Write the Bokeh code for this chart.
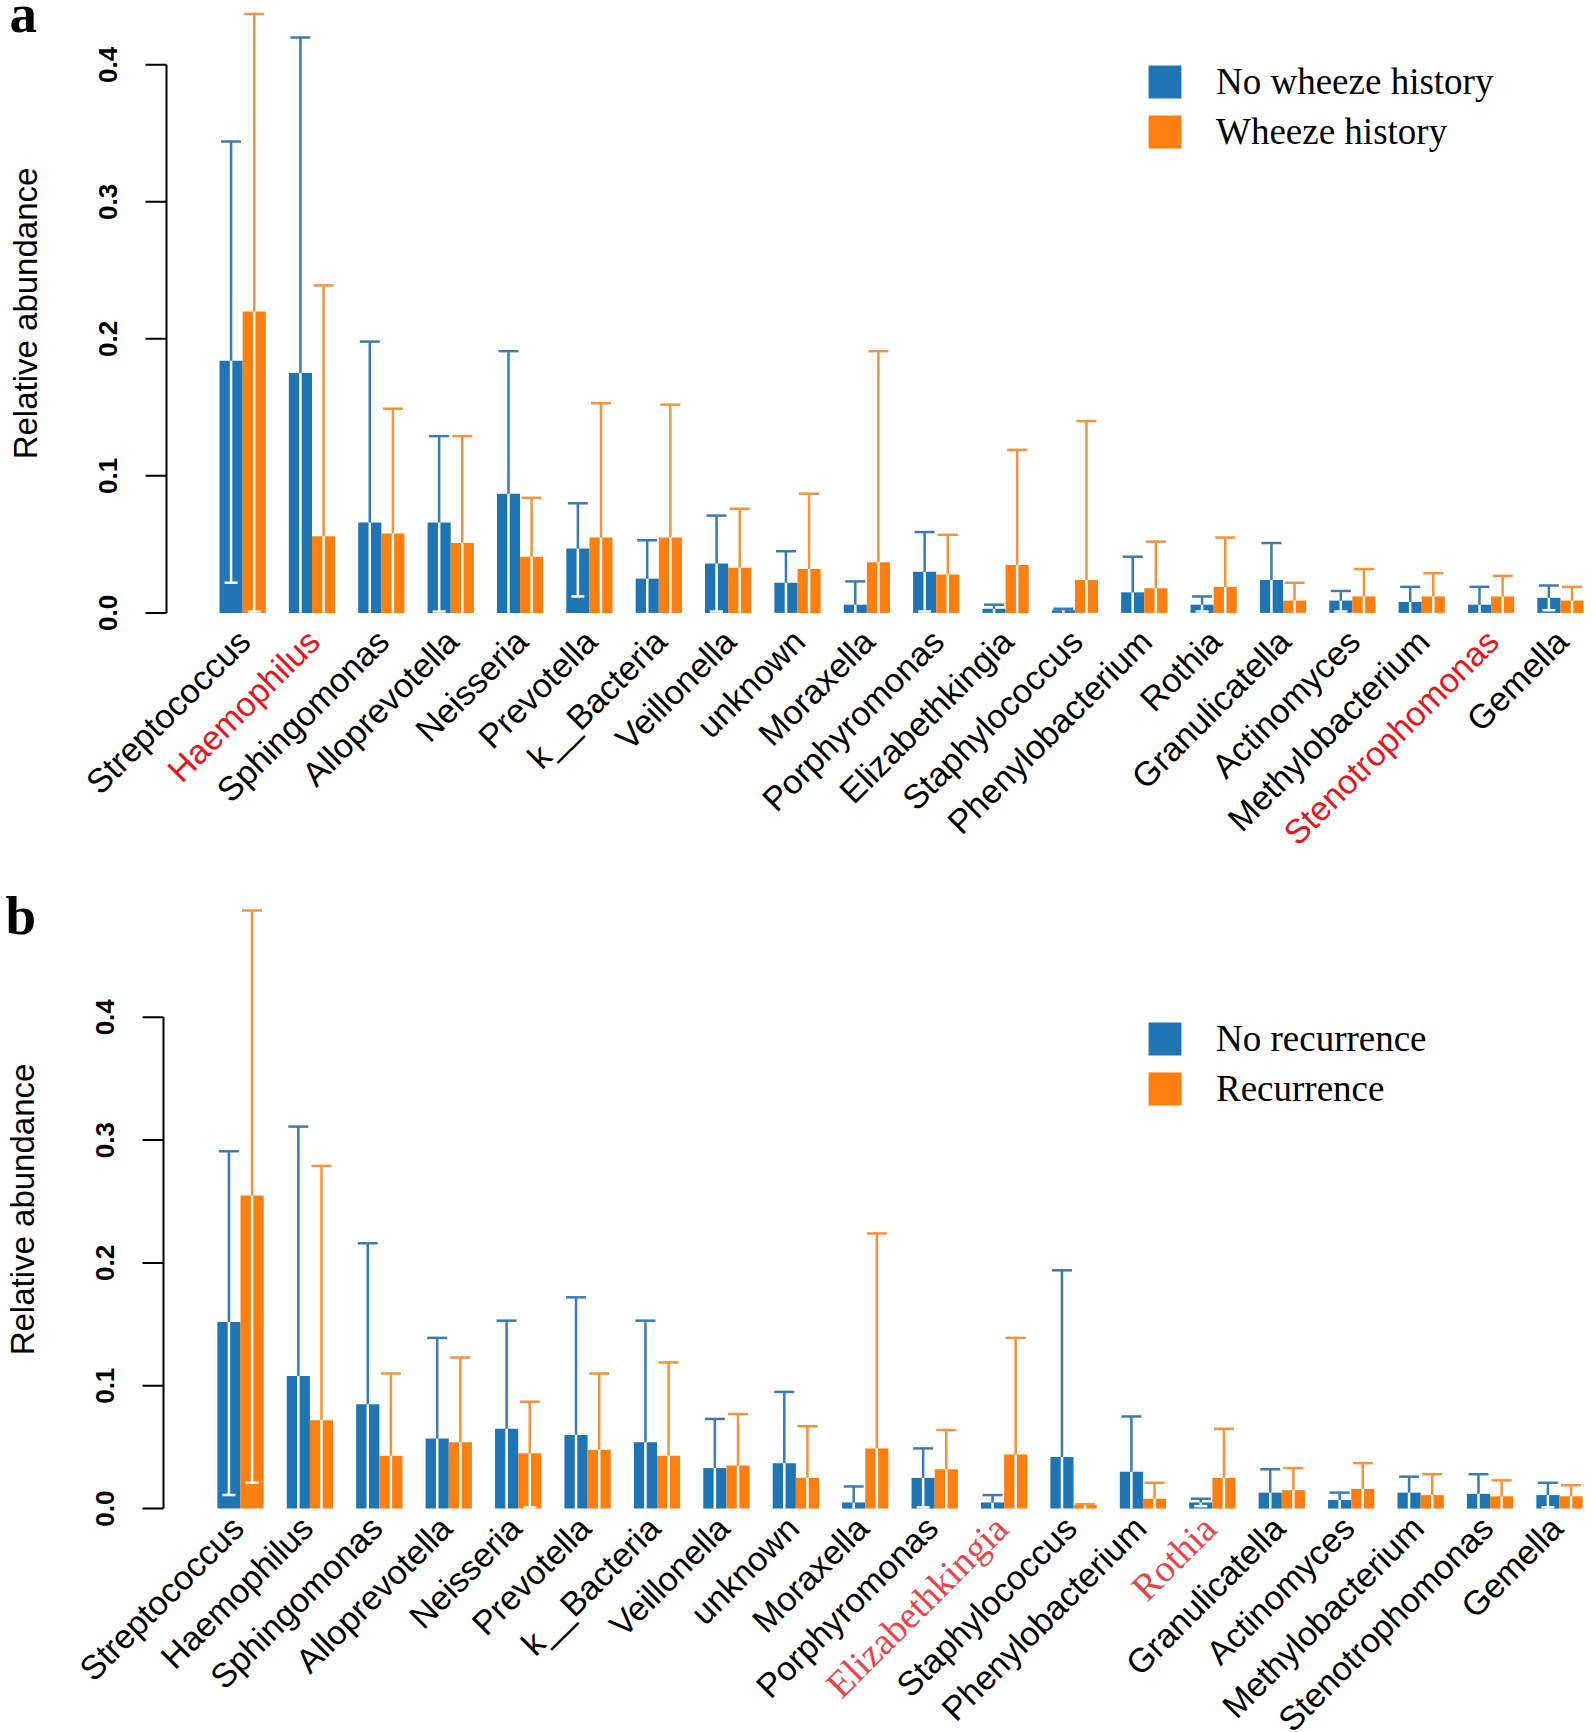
import math
from bokeh.plotting import figure
from bokeh.models import ColumnDataSource, Legend, LegendItem, Label
from bokeh.layouts import column
from bokeh.embed import file_html
from bokeh.resources import INLINE
from bokeh.core.properties import value

genera = ["Streptococcus", "Haemophilus", "Sphingomonas", "Alloprevotella",
          "Neisseria", "Prevotella", "k__Bacteria", "Veillonella", "unknown",
          "Moraxella", "Porphyromonas", "Elizabethkingia", "Staphylococcus",
          "Phenylobacterium", "Rothia", "Granulicatella", "Actinomyces",
          "Methylobacterium", "Stenotrophomonas", "Gemella"]

y_ticks = [0.0, 0.1, 0.2, 0.3, 0.4]
y_tick_labels = ["0.0", "0.1", "0.2", "0.3", "0.4"]
y_title = "Relative abundance"

# ---- panel a : wheeze history ----
a_no_mean = [0.184, 0.175, 0.066, 0.066, 0.087, 0.047, 0.025, 0.036, 0.022, 0.006,
             0.030, 0.003, 0.002, 0.015, 0.006, 0.024, 0.009, 0.008, 0.006, 0.011]
a_no_upper = [0.344, 0.420, 0.198, 0.129, 0.191, 0.080, 0.053, 0.071, 0.045, 0.023,
              0.059, 0.006, 0.003, 0.041, 0.012, 0.051, 0.016, 0.019, 0.019, 0.020]
a_no_lower = [0.022, 0.0, 0.0, 0.001, 0.0, 0.012, 0.0, 0.001, 0.0, 0.0,
              0.001, 0.0, 0.0, 0.0, 0.001, 0.0, 0.001, 0.0, 0.0, 0.002]
a_yes_mean = [0.220, 0.056, 0.058, 0.051, 0.041, 0.055, 0.055, 0.033, 0.032, 0.037,
              0.028, 0.035, 0.024, 0.018, 0.019, 0.009, 0.012, 0.012, 0.012, 0.009]
a_yes_upper = [0.437, 0.239, 0.149, 0.129, 0.084, 0.153, 0.152, 0.076, 0.087, 0.191,
               0.057, 0.119, 0.140, 0.052, 0.055, 0.022, 0.032, 0.029, 0.027, 0.019]
a_yes_lower = [0.001, 0.0, 0.0, 0.0, 0.0, 0.0, 0.0, 0.0, 0.0, 0.0,
               0.0, 0.0, 0.0, 0.0, 0.0, 0.0, 0.0, 0.0, 0.0, 0.0]
a_groups = ["No wheeze history", "Wheeze history"]
a_red = ["Haemophilus", "Stenotrophomonas"]

# ---- panel b : recurrence ----
b_no_mean = [0.152, 0.108, 0.085, 0.057, 0.065, 0.060, 0.054, 0.033, 0.037, 0.005,
             0.025, 0.005, 0.042, 0.030, 0.005, 0.013, 0.007, 0.013, 0.012, 0.011]
b_no_upper = [0.291, 0.311, 0.216, 0.139, 0.153, 0.172, 0.153, 0.073, 0.095, 0.018,
              0.049, 0.011, 0.194, 0.075, 0.008, 0.032, 0.013, 0.026, 0.028, 0.021]
b_no_lower = [0.011, 0.0, 0.0, 0.0, 0.0, 0.0, 0.0, 0.0, 0.0, 0.0,
              0.001, 0.0, 0.0, 0.0, 0.002, 0.0, 0.0, 0.0, 0.0, 0.001]
b_yes_mean = [0.255, 0.072, 0.043, 0.054, 0.045, 0.048, 0.043, 0.035, 0.025, 0.049,
              0.032, 0.044, 0.003, 0.008, 0.025, 0.015, 0.016, 0.011, 0.010, 0.010]
b_yes_upper = [0.487, 0.279, 0.110, 0.123, 0.087, 0.110, 0.119, 0.077, 0.067, 0.224,
               0.064, 0.139, 0.0035, 0.021, 0.065, 0.033, 0.037, 0.028, 0.023, 0.019]
b_yes_lower = [0.021, 0.0, 0.0, 0.0, 0.001, 0.0, 0.0, 0.0, 0.0, 0.0,
               0.0, 0.0, 0.0, 0.0, 0.0, 0.0, 0.0, 0.0, 0.0, 0.0]
b_groups = ["No recurrence", "Recurrence"]
b_red = ["Elizabethkingia", "Rothia"]

BLUE = "#1f74b3"
ORANGE = "#fd7f0f"
BLUE_W = "#3a7bb2"
ORANGE_W = "#f6923a"
SANS = "Liberation Sans"
SERIF = "Liberation Serif"


def make_panel(tag, no_mean, no_upper, no_lower, yes_mean, yes_upper, yes_lower,
               groups, red_names, red_color, red_font, red_size, height,
               y_range, x_range, axis_x, label_offsets, legend_loc, tag_xy):
    p = figure(width=1593, height=height, output_backend="svg",
               toolbar_location=None, x_axis_location=None, y_axis_location=None,
               title_location=None, x_range=x_range, y_range=y_range,
               min_border=0, min_border_left=0, min_border_right=0,
               min_border_top=0, min_border_bottom=0)
    p.outline_line_color = None
    p.background_fill_color = "white"
    p.grid.grid_line_color = None
    p.grid.visible = False

    n = len(genera)
    xb = [3 * i + 1.5 for i in range(n)]
    xo = [3 * i + 2.5 for i in range(n)]
    xc = [3 * i + 2.0 for i in range(n)]

    rb = p.vbar(x=xb, top=no_mean, bottom=0, width=1.0, fill_color=BLUE, line_color=None)
    ro = p.vbar(x=xo, top=yes_mean, bottom=0, width=1.0, fill_color=ORANGE, line_color=None)

    for xs, mean, up, lo, col in [(xb, no_mean, no_upper, no_lower, BLUE_W),
                                  (xo, yes_mean, yes_upper, yes_lower, ORANGE_W)]:
        # lower half of the error bar, white inside the bar
        p.segment(x0=xs, y0=lo, x1=xs, y1=mean, line_color="white", line_width=2.5)
        cx = [x for x, l in zip(xs, lo) if l > 0]
        cy = [l for l in lo if l > 0]
        p.rect(x=cx, y=cy, width=13, height=2.5, width_units="screen",
               height_units="screen", fill_color="white", line_color=None)
        # upper half, coloured
        p.segment(x0=xs, y0=mean, x1=xs, y1=up, line_color=col, line_width=2.5)
        p.rect(x=xs, y=up, width=20, height=2.5, width_units="screen",
               height_units="screen", fill_color=col, line_color=None)

    # genus labels, rotated 45 degrees under each pair of bars
    colors = [red_color if g in red_names else "black" for g in genera]
    fonts = [red_font if g in red_names else SANS for g in genera]
    sizes = [red_size if g in red_names else "34px" for g in genera]
    src = ColumnDataSource(dict(x=xc, y=[0.0] * n, t=genera, c=colors, f=fonts, s=sizes))
    p.text(x="x", y="y", text="t", source=src, angle=math.pi / 4,
           text_align="right", text_baseline="middle",
           x_offset=label_offsets[0], y_offset=label_offsets[1],
           text_color="c", text_font="f", text_font_size="s")

    # y axis (R style: line spans only the tick range)
    p.segment(x0=[axis_x], y0=[min(y_ticks)], x1=[axis_x], y1=[max(y_ticks)],
              line_color="black", line_width=2)
    p.ray(x=[axis_x] * len(y_ticks), y=y_ticks, length=21, length_units="screen",
          angle=math.pi, line_color="black", line_width=2)
    p.text(x=[axis_x] * len(y_ticks), y=y_ticks, text=y_tick_labels,
           angle=math.pi / 2, text_align="center", text_baseline="middle",
           x_offset=-58.5, text_font=value(SANS), text_font_style="bold",
           text_font_size="26px", text_color="black")
    ymid = max(max(no_upper), max(yes_upper)) / 2.0
    p.text(x=[axis_x], y=[ymid], text=[y_title], angle=math.pi / 2,
           text_align="center", text_baseline="middle", x_offset=-141,
           text_font=value(SANS), text_font_size="33px", text_color="black")

    leg = Legend(items=[LegendItem(label=groups[0], renderers=[rb]),
                        LegendItem(label=groups[1], renderers=[ro])],
                 location=legend_loc, glyph_width=41, glyph_height=41,
                 label_height=41, spacing=7, label_standoff=31,
                 label_text_font=SERIF, label_text_font_size="37px",
                 label_text_color="black", padding=0, margin=0,
                 border_line_color=None, background_fill_alpha=0)
    p.add_layout(leg)

    p.add_layout(Label(x=tag_xy[0], y=tag_xy[1], x_units="screen", y_units="screen",
                       text=tag, text_font=SERIF, text_font_style="bold",
                       text_font_size="55px", text_color="black",
                       text_align="left", text_baseline="alphabetic"))
    return p


pa = make_panel("a", a_no_mean, a_no_upper, a_no_lower, a_yes_mean, a_yes_upper, a_yes_lower,
                a_groups, a_red, "#e8141c", SANS, "34px", 870,
                y_range=(-0.188, 0.44693), x_range=(-8.473, 60.43), axis_x=-1.293,
                label_offsets=(1.5, 22.5), legend_loc=(1144, 717), tag_xy=(9, 857))
pb = make_panel("b", b_no_mean, b_no_upper, b_no_lower, b_yes_mean, b_yes_upper, b_yes_lower,
                b_groups, b_red, "#e5434b", SERIF, "38px", 862,
                y_range=(-0.1823, 0.5195), x_range=(-8.371, 60.47), axis_x=-1.327,
                label_offsets=(-3, 13.5), legend_loc=(1144, 622), tag_xy=(5, 817))

page = column(pa, pb, spacing=0)
open("out.html", "w").write(file_html(page, INLINE))
